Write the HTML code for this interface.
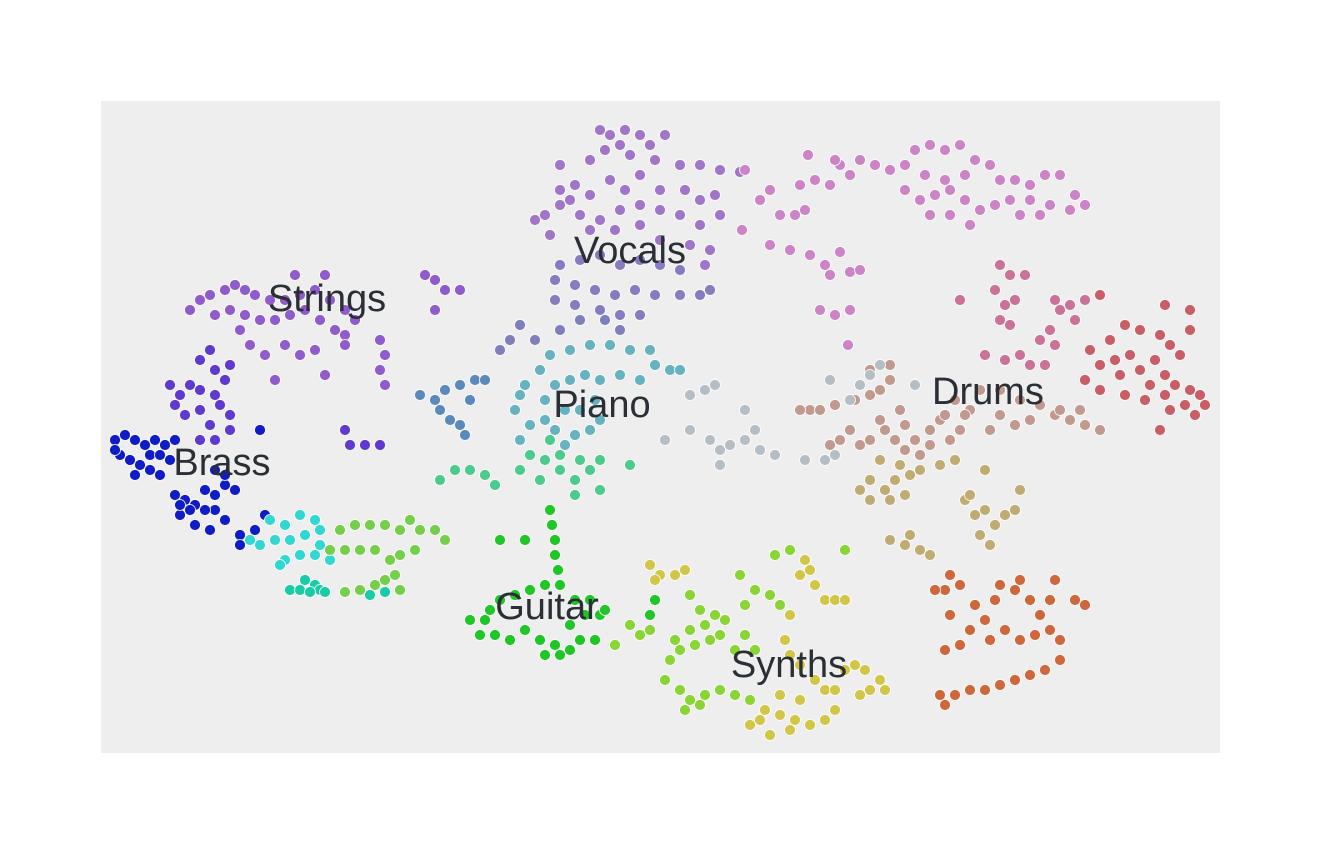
<!DOCTYPE html>
<html><head><meta charset="utf-8"><style>
html,body{margin:0;padding:0;background:#fff;}
svg{display:block;font-family:"Liberation Sans",sans-serif;}
</style></head><body>
<svg id="chart" width="1320" height="854">
<rect x="101" y="101" width="1119" height="652" fill="#eeeeee"/>
<g id="points"></g><g id="labels"></g>
</svg>
<script>
// x domain [0.1,112], y domain [4.7,69.9]
const vocalsTopX=[50,51,52.5,54,52,50.5,49,53,55,56.5,55.5,58,60,62,64,46,47.5,49,51,52.5,54,56,58.5,60,61.5,62,60,58,56,54,52,50,48,46,44.5,43.5,45,46,47,49,51.5,54,56,59,61,60.5];
const vocalsTopY=[67,66.5,67,66.5,65.5,65,64,64.5,65.5,66.5,64,63.5,63.5,63,62.8,63.5,61.5,60.5,62,61,62.5,61,61,60,60.5,58.5,57.5,58.5,59,59.5,59,58,58.5,59.5,58.5,58,56.5,61,60,57,57,57.5,56,55.5,55,53.5];
const vocalsLowX=[58,56,54,52,50,48,46,45.5,47.5,49.5,51.5,53.5,55.5,58,60,61,45.5,47.5,50,52,54];
const vocalsLowY=[53,53.5,54,53.5,54.5,54,53.5,52,51.5,51,50.5,51,50.5,50.5,50.5,51,50,49.5,49,48.5,48.5];
const pinkX=[64.5,66,67,68,69.5,70.5,70,71.5,73,74,75,76,77.5,79,80.5,81.5,83,84.5,86,87.5,89,86.5,84.5,82.5,80.5,82,83.5,85,86.5,88,87,85,83,90,91.5,93,94.5,96,97.5,98.5,97,95,93,91,89.5,92,94,70.8,73.5,64.2,67,69,71,72.5,74,73,75,76,72,73.5,75,74.8];
const pinkY=[63,60,61,58.5,58.5,59,61.5,62,61.5,63.5,62.5,64,63.5,63,63.5,65,65.5,65,65.5,64,63.5,62.5,62,62.5,61,60,60.5,61,60,59,57.5,58.5,58.5,62,62,61.5,62.5,62.5,60.5,59.5,59,59.5,60,60,59.5,58.5,58.5,64.5,64,57,55.5,55,54.5,53.5,54.8,52.5,52.8,53,49,48.5,49,45.5];
const drumsTopX=[90,91,92.5,89.5,90.5,91.5,90,91,86,95.5,96,97,98.5,97.5,95,94,95.5,88.5,90.5,92,93,94.5];
const drumsTopY=[53.5,52.5,52.5,51,49.5,50,48,47.5,50,50,49,49.5,50,48,47,46,45.5,44.5,44,44.5,43.5,43.5];
const drumsRightX=[100,99,101,102.5,104,106,107,108,106.5,105,104,103,101.5,100,98.5,100,102.5,104.5,106.5,107.5,109,110,110.5,109.5,108.5,107,109,106.5,109,105.5,102,106];
const drumsRightY=[50.5,45,46,47.5,47,46.5,45.5,44.5,42.5,41.5,43,44.5,44,43.5,42,41,40.5,40,40.5,41.5,41,40.5,39.5,38.5,39.5,39,49,49.5,47,44,42.5,37];
const drumsMidX=[88,90,92,94,95.5,97,98.5,100,98,96,93,90,89,91.5,86,87,85.5,84,85,83,82,80.5,79.5,78.5,77,76,75,74,73,71,70,72,73.5,75.5,77,78,79,77,79,80,78,80.5,81.5,83,84.5,86.5];
const drumsMidY=[41,41,40,39.5,38.5,38,37.5,37,39,39,38,38.5,37,37.5,37,39,40,38,36,35.5,34.5,35,36,37,36,35.5,37,36,35.5,39,39,39,39.5,40,40.5,41,42,43,43.5,39,38,37.5,36,37,38.5,38.5];
const tanX=[77,78.5,79.5,78,80,81,77,76,79,80.5,82,84,85.5,79,80.5,82,83,81,86.5,87.5,88.5,89.5,90.5,91.5,88.5,89,88,87,92];
const tanY=[32,31,32,34,33.5,32.5,30,31,30,30.5,33,33.5,34,26,25.5,25,24.5,26.5,30,28.5,29,27.5,28.5,29,33,25.5,26.5,30.5,31];
const orangeX=[85,84.5,86,87.5,88.5,89.5,90,91.5,93,94,95,96,93.5,92,90.5,89,87,85,86,84.5,97.5,98.5,96,94.5,93,91.5,90,88.5,87,85.5,84,84.5,95.5,92,83.5,95];
const orangeY=[22.5,21,21.5,19.5,18,20,21.5,21,20,18.5,17,16,16.5,16,17,16,17,18.5,15.5,15,20,19.5,14,13,12.5,12,11.5,11,11,10.5,10.5,9.5,22,22,21,20];
const synthsLeftX=[59,60,61.5,62.5,60.5,59,57.5,58,59.5,61,62,57,56.5,58,59,60.5,62,63.5,65,58.5,60,64.5,64,65.5,67,68,64.5,65.5,63.5,53,54,51.5,55,67.5,69,74.5];
const synthsLeftY=[20.5,19,18.5,18,17.5,17,16,15,15.5,16,16.5,14,12,11,10,10.5,11,10.5,10,9,9.5,19.5,22.5,21,20.5,19.5,16.5,15,15,17.5,16.5,15.5,17,24.5,25,25];
const synthsRightX=[66.5,68,69.5,71,72.5,73.5,70,68,66,67,69,65,69,70,71,71.5,72.5,73.5,74.5,70.5,68.5,69,70,71.5,72.5,73.5,74.5,75.5,76.5,78,78.5,77,76,55,56,57.5,58.5,55.5];
const synthsRightY=[9,8.5,8,7.5,8,9,10,10.5,8,6.5,7,7.5,18.5,22.5,23,21.5,20,20,20,24,16,14.5,13.5,12,11,11,13,13.5,13,12,11,11,10.5,23.5,22.5,22.5,23,22];
const guitarX=[45,45.2,45.5,45.5,45.8,46,44.5,43,41.5,40,39,38.5,38,39.5,41,42.5,44,45.5,47,48,47,48.5,47.5,49,50,49.5,44.5,46,40,42.5,37,55,55.5,50.5];
const guitarY=[29,27.5,26,24.5,23,21.5,21.5,21,20.5,20,19,18,16.5,16.5,16,17,16,15.5,15,16,17.5,18.5,20,20,18.5,16,14.5,14.5,26,26,18,18.5,20,19];
const curveX=[34,35.5,37,38.5,39.5,42,43,44.5,46,47.5,49,50,48,46,45,44,47.5,53,50];
const curveY=[32,33,33,32.5,31.5,33,34.5,34,33,32,33,34,34,34.5,36,32,30.5,33.5,31];
const pianoX=[42,43,44.5,45.5,46.5,47.5,49,50,49.5,48,46.5,44.5,45.5,47,48.5,50,52,54,55.5,57,58,55,53,51,49,47,45,44,42.5,41.5,42];
const pianoY=[36,37.5,38,37,35.5,36.5,37,38,40,39,39,40,41.5,42,42.5,42,42.5,42,43.5,43,43,45,45,45.5,45.5,45,44.5,43,41.5,39,40.5];
const pianoUpX=[43.5,42,41,40,46,48,52,50.5];
const pianoUpY=[46,47.5,46,45,47,48,47,48];
const grayX=[59,60.5,61.5,56.5,59,61,62,63,64.5,65.5,64.5,66,67.5,62,70.5,72.5,73.5,73,75,76,77,78,81.5];
const grayY=[40.5,41,41.5,36,37,36,35,35.5,36,37,39,35,34.5,33.5,34,34,34.5,42,40,41.5,42.5,43.5,41.5];
const lightBlueX=[32,33.5,34.5,36,37.5,38.5,34,35,36,36.5,37];
const lightBlueY=[40.5,40,41,41.5,42,42,39,38,37.5,36.5,40];
const stringsX=[9,10,11,12.5,13.5,14.5,15.5,17,18.5,20,21.5,22.5,23,24.5,25.5,24.5,23.5,22,20.5,19,17.5,16,14.5,13,11.5,14,15,16.5,18.5,20,21.5,22.5,24.5,28,28.5,28,28.5,17.5,19.5,32.5,33.5,34.5,36,33.5];
const stringsY=[49,50,50.5,51,51.5,51,50.5,50,50,50.5,51,52.5,50,49,48,46.5,47,48,49,48.5,48,48,48.5,49,48.5,47,45.5,44.5,45.5,44.5,45,42.5,45.5,46,44.5,43,41.5,42,52.5,52.5,52,51,51,49];
const stringsLowX=[11,10,11.5,13,12.5,11.5,10,9,8,7,7.5,8.5,10,12,13,11,10,11.5,13,24.5,25,26.5,28];
const stringsLowY=[45,44,43,43.5,42,40.5,41,41.5,40.5,41.5,39.5,38.5,39,39.5,38.5,37.5,36,36,37,37,35.5,35.5,35.5];
const brassX=[1.5,2.5,3.5,4.5,5.5,6.5,7.5,2,3,4,5,6,7,1.5,5,3.5,6,7.5,8.5,9.5,10.5,11.5,12.5,13.5,8,9.5,11,12.5,11.5,10.5,9,8,14,14,15.5,16.5,16,11.5,12.5];
const brassY=[36,36.5,36,35.5,36,35.5,36,34.5,34,33.5,33,32.5,34,35,34.5,32.5,34.5,30.5,30,29.5,31,30.5,31.5,31,28.5,27.5,27,28,29,29,29,29.5,26.5,25.5,27,28.5,37,33,32.5];
const cyanX=[17,18.5,20,21.5,22,20.5,19,17.5,16,15,18.5,20,21.5,23,22,18];
const cyanY=[28,27.5,28.5,28,27,26.5,26,26,25.5,26,24,24.5,24.5,24,25.5,23.5];
const tealX=[19,20,21.5,22,22.5,21,27,28.5,20.5];
const tealY=[21,21,21.5,21,20.8,20.8,20.5,20.8,22];
const greenX=[24,25.5,27,28.5,30,31,32,33.5,34.5,31.5,30,29,27.5,26,24.5,23,29.5,28.5,27.5,26,24.5,30];
const greenY=[27,27.5,27.5,27.5,27,28,27,27,26,25,24.5,24,25,25,25,25,22.5,22,21.5,21,20.8,21];

const groupNames=["vocals-top","vocals-low","vocals-pink","drums-top","drums-right","drums-mid","drums-tan","drums-orange","synths-left","synths-right","guitar","guitar-curve","piano","piano-upper","piano-gray","piano-lightblue","strings","strings-low","brass","brass-cyan","brass-teal","brass-green"];
const groupX=[vocalsTopX,vocalsLowX,pinkX,drumsTopX,drumsRightX,drumsMidX,tanX,orangeX,synthsLeftX,synthsRightX,guitarX,curveX,pianoX,pianoUpX,grayX,lightBlueX,stringsX,stringsLowX,brassX,cyanX,tealX,greenX];
const groupY=[vocalsTopY,vocalsLowY,pinkY,drumsTopY,drumsRightY,drumsMidY,tanY,orangeY,synthsLeftY,synthsRightY,guitarY,curveY,pianoY,pianoUpY,grayY,lightBlueY,stringsY,stringsLowY,brassY,cyanY,tealY,greenY];
const groupHue=[272,250,305,335,355,12,45,18,88,55,122,150,190,240,210,212,268,255,236,178,168,100];
const groupSat=[42,35,42,45,50,30,38,60,65,60,72,55,42,32,12,42,52,62,85,68,78,58];
const groupLight=[62,62,66,62,58,66,60,52,52,55,45,55,58,62,74,55,58,52,42,52,45,55];

const labelText=["Vocals","Strings","Piano","Drums","Brass","Guitar","Synths"];
const labelX=[53,22.7,50.2,88.8,12.2,44.7,68.9];
const labelY=[55,50.2,39.6,40.9,33.8,19.4,13.6];

const X0=0.1,X1=112,Y0=4.7,Y1=69.9;
function sx(v){return 101+(v-X0)/(X1-X0)*1119;}
function sy(v){return 753-(v-Y0)/(Y1-Y0)*652;}
const NS="http://www.w3.org/2000/svg";
const pg=document.getElementById('points');
for(let g=0;g<groupX.length;g++){
  for(let i=0;i<groupX[g].length;i++){
    const c=document.createElementNS(NS,'circle');
    c.setAttribute('cx',sx(groupX[g][i]).toFixed(1));
    c.setAttribute('cy',sy(groupY[g][i]).toFixed(1));
    c.setAttribute('r','5.5');
    c.setAttribute('fill','hsl('+groupHue[g]+','+groupSat[g]+'%,'+groupLight[g]+'%)');
    c.setAttribute('stroke','#ffffff');
    c.setAttribute('stroke-width','0.8');
    
    
    pg.appendChild(c);
  }
}
const lg=document.getElementById('labels');
for(let i=0;i<labelText.length;i++){
  const t=document.createElementNS(NS,'text');
  t.setAttribute('x',sx(labelX[i]).toFixed(1));
  t.setAttribute('y',(sy(labelY[i])+13).toFixed(1));
  t.setAttribute('text-anchor','middle');
  t.setAttribute('font-size','38');
  t.setAttribute('fill','#2a2f36');
  t.textContent=labelText[i];
  
  
  lg.appendChild(t);
}
</script>
</body></html>
